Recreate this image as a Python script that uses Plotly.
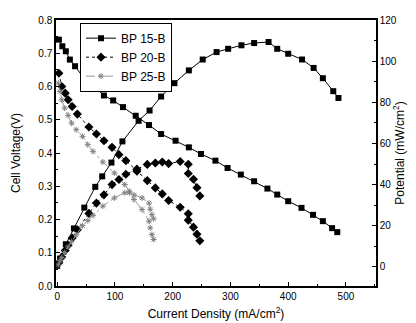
import plotly.graph_objects as go

# BP 15-B
x15v = [3, 9, 15, 22, 31, 48, 65, 81, 97, 114, 136, 159, 180, 205, 228, 249, 274, 295, 318, 341, 364, 381, 400, 423, 443, 460, 476, 485]
v15 = [0.741, 0.721, 0.706, 0.681, 0.661, 0.621, 0.598, 0.573, 0.558, 0.538, 0.512, 0.484, 0.457, 0.437, 0.417, 0.397, 0.377, 0.355, 0.335, 0.315, 0.293, 0.275, 0.255, 0.235, 0.214, 0.195, 0.174, 0.162]
x15p = [0, 5, 15, 29, 47, 66, 78, 94, 113, 141, 160, 180, 203, 228, 252, 276, 296, 319, 341, 366, 381, 400, 424, 444, 460, 478, 487]
p15 = [0.5, 4, 11.0, 18.7, 28.8, 38.9, 44, 50.7, 61, 71, 76, 82.8, 89.3, 95.5, 100.8, 104.4, 106, 107.7, 108.8, 109.3, 106, 103.6, 100.8, 96.7, 91.7, 85.4, 82.1]

# BP 20-B
x20 = [3, 8, 14, 19, 26, 35, 55, 68, 81, 95, 107, 119, 138, 156, 170, 182, 193, 213, 227, 227, 236, 242, 247]
v20 = [0.64, 0.60, 0.58, 0.56, 0.54, 0.517, 0.478, 0.457, 0.437, 0.417, 0.395, 0.377, 0.345, 0.317, 0.295, 0.277, 0.257, 0.237, 0.217, 0.198, 0.177, 0.156, 0.136]
p20 = [2, 4.8, 8, 10.5, 14, 18, 26, 31, 35, 40, 42.5, 45, 47.5, 49.8, 50.5, 51, 50.2, 51.2, 49.9, 45.4, 42.6, 38.5, 34.5]

# BP 25-B
x25 = [2, 5, 8, 13, 19, 25, 33, 44, 53, 62, 79, 99, 117, 125, 133, 147, 159, 161, 164, 167]
v25 = [0.61, 0.585, 0.56, 0.535, 0.513, 0.49, 0.47, 0.45, 0.425, 0.405, 0.373, 0.34, 0.305, 0.285, 0.26, 0.23, 0.195, 0.175, 0.155, 0.14]
p25 = [1, 3, 4.5, 7, 9.7, 12.3, 15.5, 20, 22.5, 25, 29.5, 33.5, 36, 36, 35, 33.5, 31, 28, 25.4, 23.4]

names = ["BP 15-B", "BP 20-B", "BP 25-B"]
xticks = [0, 100, 200, 300, 400, 500]
yticks_left = [0.0, 0.1, 0.2, 0.3, 0.4, 0.5, 0.6, 0.7, 0.8]
yticks_right = [0, 20, 40, 60, 80, 100, 120]

FONT = "Liberation Sans, Arial, sans-serif"
fig = go.Figure()

s15 = dict(line=dict(color="black", width=1, dash="solid"),
           marker=dict(symbol="square", size=6, color="black"))
s20 = dict(line=dict(color="black", width=1, dash="dot"),
           marker=dict(symbol="diamond", size=7, color="black"))
s25 = dict(line=dict(color="#9a9a9a", width=1, dash="dashdot"),
           marker=dict(symbol="asterisk-open", size=5, color="#808080", line=dict(width=1, color="#808080")))

fig.add_trace(go.Scatter(x=x15v, y=v15, mode="lines+markers", name=names[0], **s15))
fig.add_trace(go.Scatter(x=x20, y=v20, mode="lines+markers", name=names[1], **s20))
fig.add_trace(go.Scatter(x=x25, y=v25, mode="lines+markers", name=names[2], **s25))
fig.add_trace(go.Scatter(x=x15p, y=p15, mode="lines+markers", name=names[0], yaxis="y2", showlegend=False, **s15))
fig.add_trace(go.Scatter(x=x20, y=p20, mode="lines+markers", name=names[1], yaxis="y2", showlegend=False, **s20))
fig.add_trace(go.Scatter(x=x25, y=p25, mode="lines+markers", name=names[2], yaxis="y2", showlegend=False, **s25))

axis_common = dict(showline=True, linecolor="black", linewidth=1.5, ticks="inside",
                   ticklen=4, tickcolor="black", showgrid=False, zeroline=False,
                   automargin=False,
                   tickfont=dict(family=FONT, size=10, color="black"))

fig.update_layout(
    width=416, height=323,
    margin=dict(l=48, r=48, t=12, b=45),
    paper_bgcolor="white", plot_bgcolor="white",
    font=dict(family=FONT, size=12, color="black"),
    xaxis=dict(range=[-2, 552], tickvals=xticks, mirror=True,
               minor=dict(ticks="inside", ticklen=2, dtick=50, tickcolor="black"),
               title=dict(text="Current Density (mA/cm<sup>2</sup>)", font=dict(size=12), standoff=9),
               **axis_common),
    yaxis=dict(range=[0, 0.8], tickvals=yticks_left, tickformat=".1f",
               minor=dict(ticks="inside", ticklen=2, dtick=0.05, tickcolor="black"),
               title=dict(text="Cell Voltage(V)", font=dict(size=12), standoff=15),
               **axis_common),
    yaxis2=dict(range=[-9.3, 120], tickvals=yticks_right, overlaying="y", side="right",
                minor=dict(ticks="inside", ticklen=2, dtick=10, tickcolor="black"),
                title=dict(text="Potential (mW/cm<sup>2</sup>)", font=dict(size=12), standoff=0),
                **axis_common),
    legend=dict(x=0.075, y=0.99, xanchor="left", yanchor="top",
                bordercolor="black", borderwidth=1, bgcolor="white",
                font=dict(family=FONT, size=12, color="black"),
                itemwidth=30, tracegroupgap=0),
    showlegend=True,
)

fig.write_html("out.html")
